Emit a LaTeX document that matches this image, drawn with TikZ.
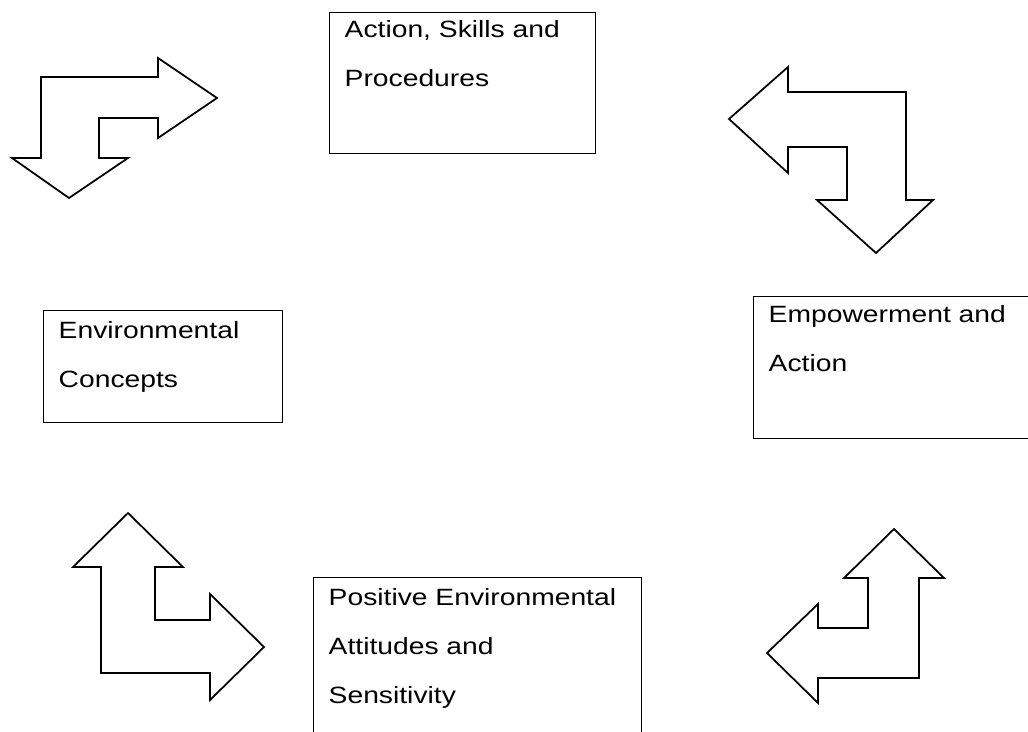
\documentclass[tikz,border=0pt]{standalone}
\usepackage{fontspec}
\setmainfont{Liberation Sans}[FakeStretch=1.2]
\usetikzlibrary{positioning}

\begin{document}
\begin{tikzpicture}[x=0.2mm,y=-0.2mm,
 box/.style={draw,line width=0.8pt,anchor=north west,inner ysep=0pt,inner xsep=3mm,align=left,
   font=\fontsize{13.4pt}{27.9pt}\selectfont},
 arw/.style={draw,line width=1pt,line join=miter}]
 \clip (0,0) rectangle (1028,731);
 % the four stages
 \node[box,text width=47.2mm,text height=5mm,text depth=23.2mm] (skills) at (329,12)
   {Action, Skills and\\Procedures};
 \node[box,text width=41.8mm,text height=5.6mm,text depth=16.8mm] (concepts) at (43,310)
   {Environmental\\Concepts};
 \node[box,text width=51.4mm,text height=5.2mm,text depth=23.2mm] (empower) at (753,296)
   {Empowerment and\\Action};
 \node[box,text width=59.6mm,text height=5.6mm,text depth=28mm] (attitudes) at (313,577)
   {Positive Environmental\\Attitudes and\\Sensitivity};
 % bent block arrows
 \draw[arw] (41,77)--(158,77)--(158,58)--(217,98)--(158,138)--(158,118)--(99,118)--(99,158)
   --(128,158)--(69,198)--(12,158)--(41,158)--cycle;
 \draw[arw] (729,119)--(788,67)--(788,92)--(906,92)--(906,200)--(933,200)--(876,253)--(817,200)
   --(847,200)--(847,147)--(788,147)--(788,173)--cycle;
 \draw[arw] (128,513)--(183,567)--(155,567)--(155,620)--(210,620)--(210,594)--(264,647)--(210,700)
   --(210,673)--(101,673)--(101,567)--(73,567)--cycle;
 \draw[arw] (894,529)--(944,578)--(919,578)--(919,678)--(818,678)--(818,703)--(767,653)--(818,604)
   --(818,628)--(868,628)--(868,578)--(844,578)--cycle;
\end{tikzpicture}
\end{document}
